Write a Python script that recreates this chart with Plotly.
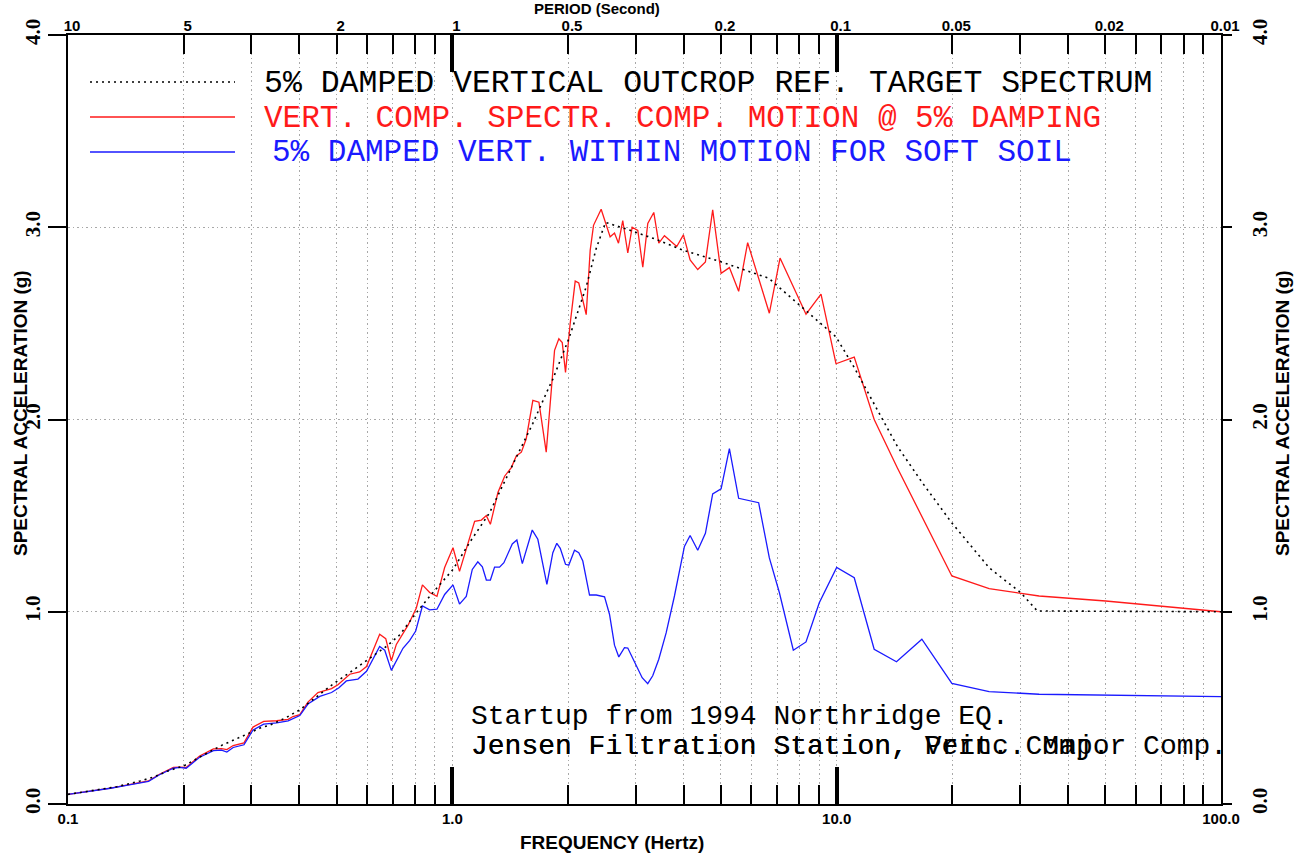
import plotly.graph_objects as go

# ---- data (frequency in Hz, spectral acceleration in g) ----
freq_target = [0.1, 0.116, 0.134, 0.154, 0.167, 0.181, 0.201, 0.223, 0.251, 0.286,
               0.316, 0.335, 0.370, 0.401, 0.45, 0.49, 0.541, 0.598, 0.674, 0.730,
               0.806, 0.890, 1.004, 1.109, 1.250, 1.437, 1.620, 1.773, 1.826, 2.009,
               2.230, 2.368, 2.504, 2.844, 3.357, 3.993, 5.004, 6.653, 8.153, 9.96,
               11.11, 12.39, 14.39, 16.72, 19.94, 24.93, 30.13, 33.28, 100.0]
sa_target = [0.05, 0.07, 0.09, 0.12, 0.14, 0.17, 0.20, 0.25, 0.305, 0.355,
             0.395, 0.41, 0.45, 0.49, 0.57, 0.625, 0.684, 0.745, 0.82, 0.88,
             0.995, 1.10, 1.22, 1.36, 1.515, 1.766, 1.98, 2.156, 2.21, 2.42,
             2.69, 2.89, 3.025, 2.99, 2.94, 2.88, 2.82, 2.735, 2.58, 2.43,
             2.27, 2.095, 1.86, 1.67, 1.462, 1.229, 1.099, 1.004, 1.0]

freq_comp = [0.1, 0.112, 0.129, 0.142, 0.162, 0.173, 0.188, 0.195, 0.203, 0.220,
             0.239, 0.251, 0.259, 0.269, 0.287, 0.303, 0.323, 0.349, 0.374, 0.385,
             0.401, 0.421, 0.447, 0.485, 0.504, 0.541, 0.574, 0.598, 0.647, 0.671,
             0.694, 0.715, 0.767, 0.806, 0.836, 0.873, 0.912, 0.955, 1.004, 1.044,
             1.087, 1.120, 1.143, 1.190, 1.226, 1.256, 1.314, 1.368, 1.424, 1.467,
             1.512, 1.557, 1.620, 1.680, 1.755, 1.845, 1.893, 1.932, 1.970, 2.026,
             2.088, 2.133, 2.177, 2.230, 2.284, 2.330, 2.439, 2.513, 2.574, 2.642,
             2.706, 2.776, 2.861, 2.937, 3.038, 3.130, 3.225, 3.343, 3.445, 3.564,
             3.836, 3.993, 4.156, 4.350, 4.555, 4.758, 5.004, 5.259, 5.559, 5.867,
             6.681, 7.123, 8.322, 9.104, 9.96, 11.11, 12.52, 14.39, 19.94, 24.93,
             33.63, 50.12, 100.0]
sa_comp = [0.05, 0.064, 0.083, 0.098, 0.12, 0.155, 0.19, 0.192, 0.19, 0.25,
           0.287, 0.288, 0.283, 0.304, 0.318, 0.40, 0.43, 0.433, 0.44, 0.455,
           0.465, 0.53, 0.58, 0.60, 0.62, 0.675, 0.687, 0.715, 0.883, 0.86,
           0.745, 0.83, 0.93, 1.02, 1.14, 1.10, 1.08, 1.23, 1.333, 1.21,
           1.325, 1.42, 1.47, 1.477, 1.50, 1.455, 1.62, 1.705, 1.75, 1.81,
           1.83, 1.90, 2.10, 2.09, 1.83, 2.36, 2.42, 2.40, 2.245, 2.50,
           2.72, 2.71, 2.64, 2.545, 2.88, 3.01, 3.094, 3.02, 2.95, 2.97,
           2.917, 3.035, 2.866, 3.0, 2.983, 2.792, 3.02, 3.077, 2.917, 2.956,
           2.90, 2.96, 2.83, 2.78, 2.82, 3.09, 2.76, 2.79, 2.667, 2.92,
           2.553, 2.84, 2.548, 2.652, 2.29, 2.325, 2.0, 1.748, 1.186, 1.12,
           1.082, 1.056, 1.0]

freq_soil = [0.1, 0.112, 0.129, 0.142, 0.162, 0.173, 0.188, 0.195, 0.203, 0.220,
             0.239, 0.251, 0.259, 0.269, 0.287, 0.303, 0.323, 0.349, 0.374, 0.401,
             0.421, 0.452, 0.485, 0.507, 0.530, 0.568, 0.598, 0.647, 0.667, 0.694,
             0.744, 0.774, 0.803, 0.836, 0.873, 0.912, 0.955, 1.004, 1.044, 1.087,
             1.127, 1.165, 1.197, 1.226, 1.256, 1.288, 1.327, 1.362, 1.432, 1.472,
             1.521, 1.614, 1.669, 1.762, 1.826, 1.870, 1.909, 1.970, 2.009, 2.079,
             2.133, 2.185, 2.275, 2.368, 2.489, 2.564, 2.642, 2.711, 2.805, 2.861,
             2.978, 3.118, 3.224, 3.322, 3.445, 3.600, 3.784, 4.017, 4.156, 4.350,
             4.555, 4.758, 5.004, 5.259, 5.559, 6.266, 6.681, 7.093, 7.713, 8.322,
             9.011, 10.0, 11.11, 12.52, 14.31, 16.66, 19.94, 24.93, 33.63, 100.0]
sa_soil = [0.05, 0.063, 0.082, 0.097, 0.118, 0.152, 0.186, 0.19, 0.186, 0.243,
           0.278, 0.28, 0.27, 0.294, 0.308, 0.385, 0.415, 0.422, 0.432, 0.46,
           0.52, 0.56, 0.58, 0.605, 0.64, 0.65, 0.69, 0.82, 0.80, 0.695,
           0.81, 0.85, 0.90, 1.03, 1.01, 1.013, 1.09, 1.14, 1.04, 1.08,
           1.22, 1.26, 1.234, 1.165, 1.165, 1.232, 1.232, 1.255, 1.353, 1.373,
           1.25, 1.425, 1.377, 1.143, 1.307, 1.356, 1.33, 1.247, 1.242, 1.32,
           1.307, 1.264, 1.087, 1.087, 1.078, 0.987, 0.826, 0.765, 0.813, 0.811,
           0.736, 0.657, 0.626, 0.667, 0.753, 0.89, 1.082, 1.34, 1.397, 1.32,
           1.408, 1.613, 1.639, 1.848, 1.59, 1.567, 1.28, 1.10, 0.80, 0.843,
           1.047, 1.23, 1.177, 0.805, 0.74, 0.857, 0.627, 0.585, 0.571, 0.559]

# ---- axis ticks ----
freq_major = [0.1, 1.0, 10.0, 100.0]
freq_major_text = ["0.1", "1.0", "10.0", "100.0"]
freq_minor = [0.2, 0.3, 0.4, 0.5, 0.6, 0.7, 0.8, 0.9,
              2, 3, 4, 5, 6, 7, 8, 9,
              20, 30, 40, 50, 60, 70, 80, 90]
period_freq = [0.1, 0.2, 0.5, 1, 2, 5, 10, 20, 50, 100]
period_text = ["10", "5", "2", "1", "0.5", "0.2", "0.1", "0.05", "0.02", "0.01"]
sa_ticks = [0, 1, 2, 3, 4]
sa_text = ["0.0", "1.0", "2.0", "3.0", "4.0"]

legend_text = ["5% DAMPED VERTICAL OUTCROP REF. TARGET SPECTRUM",
               "VERT. COMP. SPECTR. COMP. MOTION @ 5% DAMPING",
               "5% DAMPED VERT. WITHIN MOTION FOR SOFT SOIL"]
note_lines = ["Startup from 1994 Northridge EQ.",
              "Jensen Filtration Station, Vert. Comp.",
              "Jensen Filtration Station, Princ. Major Comp."]

RED = "#ff1a1a"
BLUE = "#1a1aff"
GRID = "#a8a8a8"
SANS = "Liberation Sans, Arial, sans-serif"
SERIF = "Liberation Serif, Times New Roman, serif"
MONO = "Liberation Mono, Courier New, monospace"
DOTS = "2px,4px"
GRID_DASH = "1.5px,3px"

fig = go.Figure()
fig.add_trace(go.Scatter(x=freq_comp, y=sa_comp, mode="lines",
                         line=dict(color=RED, width=1.3)))
fig.add_trace(go.Scatter(x=freq_soil, y=sa_soil, mode="lines",
                         line=dict(color=BLUE, width=1.3)))
fig.add_trace(go.Scatter(x=freq_target, y=sa_target, mode="lines",
                         line=dict(color="black", width=1.6, dash=DOTS)))
# transparent copies so the period axis (top) and the right-hand axis get drawn
for xa, ya in (("x2", "y"), ("x3", "y"), ("x", "y2")):
    fig.add_trace(go.Scatter(x=freq_target, y=sa_target, mode="lines", xaxis=xa, yaxis=ya,
                             line=dict(color="rgba(0,0,0,0)", width=0), hoverinfo="skip"))

tick_font = dict(family=SANS, size=15, color="black", weight="bold")
y_font = dict(family=SERIF, size=21, color="black", weight="bold")

fig.update_layout(
    width=1299, height=856,
    margin=dict(l=68, r=78, t=35, b=52),
    plot_bgcolor="white", paper_bgcolor="white",
    showlegend=False,
    xaxis=dict(type="log", range=[-1, 2], showline=True, linecolor="black", linewidth=2,
               tickmode="array", tickvals=freq_major, ticktext=freq_major_text,
               ticks="inside", ticklen=37, tickwidth=4, tickcolor="black",
               tickfont=tick_font, zeroline=False, automargin=False,
               showgrid=True, gridcolor=GRID, gridwidth=1, griddash=GRID_DASH,
               minor=dict(tickmode="array", tickvals=freq_minor, ticks="inside",
                          ticklen=19, tickwidth=1.5, tickcolor="black",
                          showgrid=True, gridcolor=GRID, gridwidth=1, griddash=GRID_DASH)),
    xaxis2=dict(type="log", range=[-1, 2], overlaying="x", side="top", anchor="y",
                showline=True, linecolor="black", linewidth=2, automargin=False,
                tickmode="array", tickvals=[1, 10], ticks="inside", ticklen=37,
                tickwidth=4, tickcolor="black", showticklabels=False, showgrid=False,
                zeroline=False,
                minor=dict(tickmode="array", tickvals=freq_minor, ticks="inside",
                           ticklen=19, tickwidth=1.5, tickcolor="black", showgrid=False)),
    xaxis3=dict(type="log", range=[-1, 2], overlaying="x", side="top", anchor="y",
                showline=False, tickmode="array", tickvals=period_freq, automargin=False,
                ticktext=period_text, ticks="", showgrid=False, zeroline=False,
                tickfont=tick_font, ticklabelshift=4),
    yaxis=dict(range=[0, 4], showline=True, linecolor="black", linewidth=2,
               tickmode="array", tickvals=sa_ticks, ticktext=sa_text,
               ticks="outside", ticklen=18, tickwidth=2, tickcolor="black",
               tickangle=-90, tickfont=y_font, zeroline=False, automargin=False,
               showgrid=True, gridcolor=GRID, gridwidth=1, griddash=GRID_DASH),
    yaxis2=dict(range=[0, 4], overlaying="y", side="right", anchor="x",
                showline=True, linecolor="black", linewidth=2, automargin=False,
                tickmode="array", tickvals=sa_ticks, ticktext=sa_text,
                ticks="outside", ticklen=9, tickwidth=2, tickcolor="black",
                tickangle=-90, tickfont=y_font, ticklabelstandoff=10,
                showgrid=False, zeroline=False),
)

# plot area in pixels: x 68..1221, y 35..804
def px(x):
    return (x - 68) / 1153.0


def py(y):
    return (804 - y) / 769.0


title_font = dict(family=SANS, size=19, color="black", weight="bold")
fig.add_annotation(text="FREQUENCY (Hertz)", x=px(612), y=py(843), xref="paper", yref="paper",
                   xanchor="center", yanchor="middle", showarrow=False, font=title_font)
fig.add_annotation(text="PERIOD (Second)", x=px(597), y=py(9), xref="paper", yref="paper",
                   xanchor="center", yanchor="middle", showarrow=False,
                   font=dict(family=SANS, size=15, color="black", weight="bold"))
for xx in (20, 1282):
    fig.add_annotation(text="SPECTRAL ACCELERATION (g)", x=px(xx), y=py(413),
                       xref="paper", yref="paper", xanchor="center", yanchor="middle",
                       showarrow=False, textangle=-90, font=title_font)

# legend keys and labels
legend_colors = ["black", RED, BLUE]
legend_dash = [DOTS, "solid", "solid"]
legend_y = [82, 117, 152]
legend_x = [262, 262, 270]
legend_size = [31.5, 31, 31]
for txt, col, dash, ly, lx, fs in zip(legend_text, legend_colors, legend_dash,
                                      legend_y, legend_x, legend_size):
    fig.add_shape(type="line", xref="paper", yref="paper", x0=px(90), x1=px(235),
                  y0=py(ly), y1=py(ly),
                  line=dict(color=col, width=1.6 if dash != "solid" else 1.3, dash=dash))
    fig.add_annotation(text=txt.replace(" ", "&nbsp;"), x=px(lx), y=py(ly + 1), xref="paper",
                       yref="paper", xanchor="left", yanchor="middle", showarrow=False,
                       font=dict(family=MONO, size=fs, color=col))

# station note (the second line is overstruck in the original)
note_y = [716, 746, 746]
for txt, ny in zip(note_lines, note_y):
    fig.add_annotation(text=txt, x=px(469), y=py(ny), xref="paper", yref="paper",
                       xanchor="left", yanchor="middle", showarrow=False,
                       font=dict(family=MONO, size=28, color="black"))

# drop the default 8px page margin so the figure sits at the window's top-left corner
fig.write_html("out.html", config={"displayModeBar": False},
               post_script="document.body.style.margin='0';")
